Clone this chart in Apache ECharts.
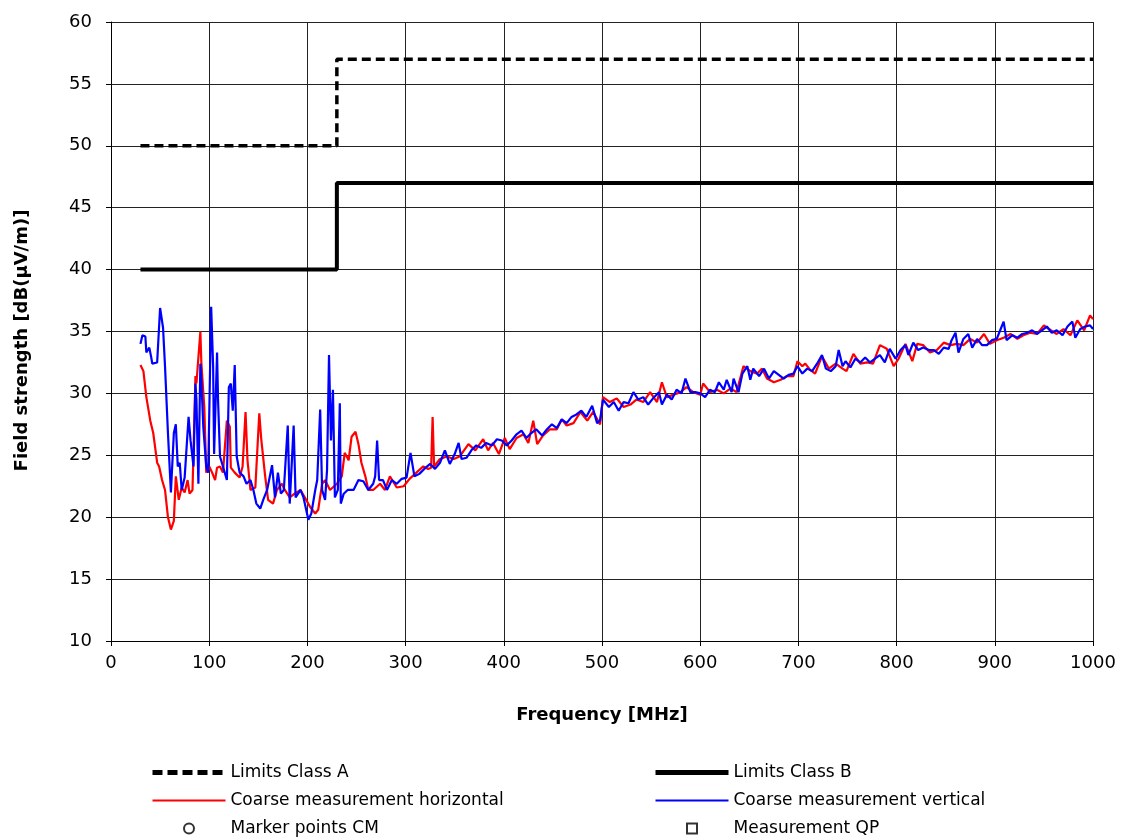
<!DOCTYPE html>
<html>
<head>
<meta charset="utf-8">
<script src="https://cdn.jsdelivr.net/npm/echarts@6/dist/echarts.min.js"></script>
<style>
  html, body { margin: 0; padding: 0; background: #fff; }
  #chart { width: 1126px; height: 837px; }
</style>
</head>
<body>
<div id="chart"></div>
<script>
  // limit lines (step at 230 MHz)
  var limitFreq = [30, 230, 230, 1000]
  var classA = [50, 50, 57, 57]
  var classB = [40, 40, 47, 47]

  var hFreq = [30,33,36,40,43,47,49,52,55,58,61,64,66,69,72,75,78,80,83,86,87,91,92,95,97,100,103,106,108,111,114,118,121,
    122,126,131,134,137,139,142,147,151,153,157,160,165,169,174,177,182,187,193,198,203,208,211,215,218,223,230,235,238,242,
    245,249,252,255,259,262,267,274,279,284,291,298,304,311,318,323,326,327.5,329,335,342,349,355,364,371,379,384,389,395,
    401,406,413,420,425,430,434,440,447,454,459,464,471,478,485,491,498,501,508,515,522,529,535,542,549,556,561,566,573,580,
    586,593,600,603,610,617,624,631,637,644,651,658,663,668,675,682,688,695,699,704,707,712,717,724,731,738,745,749,756,763,
    770,776,783,790,797,802,809,816,821,827,834,841,848,855,861,868,875,882,889,895,902,909,916,923,929,936,943,950,957,963,
    970,977,984,991,997,1000]
  var hLevel = [32.3,31.8,29.7,27.8,26.8,24.4,24.1,23.0,22.2,20.0,19.0,19.7,23.3,21.4,22.4,22.0,23.0,21.9,22.2,31.4,30.8,35.0,32.5,28.9,23.6,24.1,23.6,23.0,24.0,24.1,23.6,27.8,27.3,
    24.0,23.6,23.2,24.1,28.5,24.6,22.2,22.4,28.4,26.3,23.3,21.4,21.1,22.2,22.7,22.2,21.6,21.9,22.2,21.5,20.8,20.3,20.6,22.7,23.0,22.2,22.7,23.3,25.2,24.6,
    26.5,26.9,25.9,24.4,23.3,22.2,22.2,22.7,22.2,23.3,22.4,22.5,23.1,23.6,24.1,23.9,24.0,28.1,24.1,24.7,24.9,24.7,24.9,25.9,25.4,26.3,25.4,26.0,25.1,
    26.4,25.5,26.4,26.7,26.0,27.8,25.9,26.6,27.1,27.1,27.9,27.4,27.6,28.5,27.8,28.5,27.5,29.7,29.3,29.6,28.9,29.1,29.5,29.3,30.1,29.3,30.9,29.7,29.9,30.1,
    30.5,30.1,29.9,30.8,30.1,30.3,30.0,30.4,30.1,32.2,31.8,31.6,32.0,31.2,30.9,31.1,31.4,31.4,32.6,32.2,32.4,31.9,31.6,33.0,32.0,32.4,32.0,31.8,33.2,32.4,
    32.5,32.4,33.9,33.6,32.2,32.8,34.0,32.6,34.0,33.9,33.3,33.5,34.1,33.9,34.0,33.9,34.4,34.1,34.8,34.0,34.3,34.5,34.8,34.4,34.7,34.9,34.8,35.5,35.1,34.8,
    35.2,34.7,35.9,35.1,36.3,36.0]

  // coarse measurement, vertical polarisation
  var vFreq = [30,32,35,36,39,41,42,47,50,53,55,58,61,64,66,68,70,72,75,79,81,84,86,87,89,91,92,94,97,99,102,104,105,108,109,
    111,114,118,120,122,124,126,128,131,135,138,142,145,148,152,155,159,164,167,170,173,176,180,182,186,188,193,196,201,204,
    208,210,213,215,218,220,222,224,226,228,231,233,234,237,241,247,252,257,262,267,269,271,273,277,281,286,291,296,301,305,
    309,314,319,325,330,335,340,345,350,354,357,362,367,372,377,382,388,393,398,403,408,413,418,423,428,433,439,444,449,454,
    459,464,469,474,479,484,490,495,498,501,507,512,517,522,527,532,537,542,547,552,558,561,566,571,576,581,585,590,595,600,
    605,610,615,619,624,627,632,634,639,643,648,651,654,660,665,670,675,680,685,690,695,699,704,709,714,719,724,728,733,738,
    741,745,748,753,758,763,768,773,778,783,788,793,799,804,809,812,817,822,827,833,838,843,848,853,856,860,863,868,873,877,
    882,887,892,897,902,906,909,912,918,923,928,933,938,943,948,953,958,963,969,974,979,982,987,992,997,1000]
  var vLevel = [34.0,34.7,34.6,33.3,33.7,32.9,32.4,32.5,36.9,35.3,32.2,26.8,22.0,26.8,27.5,24.1,24.4,22.2,23.2,28.1,26.2,24.1,30.8,29.5,22.7,32.4,31.1,27.3,24.1,23.6,37.0,32.2,25.1,33.3,29.5,
    24.9,24.1,23.0,30.5,30.8,28.6,32.3,24.9,23.6,23.3,22.7,23.0,22.2,21.1,20.7,21.4,22.2,24.2,21.6,23.6,21.9,22.2,27.4,21.1,27.4,21.6,22.2,21.6,19.8,20.3,
    22.2,23.0,28.7,22.2,21.4,23.8,33.1,26.2,30.3,21.6,22.2,29.2,21.1,21.9,22.2,22.2,23.0,22.9,22.2,22.7,23.3,26.2,23.0,23.0,22.2,23.0,22.7,23.1,23.2,25.2,
    23.3,23.5,23.9,24.3,23.9,24.4,25.4,24.3,25.1,26.0,24.7,24.8,25.4,25.8,25.6,26.0,25.8,26.3,26.2,25.8,26.2,26.7,27.0,26.4,26.8,27.1,26.6,27.1,27.5,27.2,
    27.9,27.6,28.1,28.3,28.6,28.1,29.0,27.6,27.8,29.5,28.9,29.3,28.6,29.3,29.2,30.1,29.5,29.7,29.1,29.6,30.1,29.1,29.9,29.5,30.3,30.0,31.2,30.1,30.1,30.0,
    29.7,30.3,30.1,30.9,30.3,31.1,30.1,31.2,30.1,31.6,32.2,31.1,32.0,31.4,32.0,31.2,31.8,31.5,31.2,31.5,31.6,32.2,31.6,32.0,31.8,32.4,33.1,32.0,31.8,32.2,
    33.5,32.2,32.6,32.1,32.8,32.5,32.9,32.5,32.8,33.1,32.5,33.6,32.8,33.5,33.9,33.1,34.1,33.5,33.7,33.5,33.5,33.2,33.7,33.6,34.3,34.9,33.3,34.4,34.8,33.7,
    34.4,33.9,33.9,34.3,34.4,35.2,35.8,34.3,34.7,34.5,34.8,34.9,35.1,34.8,35.1,35.4,34.9,35.1,34.7,35.4,35.8,34.5,35.2,35.4,35.5,35.2]

  var xTicks = { min: 0, max: 1000, interval: 100 }
  var yTicks = { min: 10, max: 60, interval: 5 }

  function pairs(xs, ys) {
    var out = []
    for (var i = 0; i < xs.length; i++) out.push([xs[i], ys[i]])
    return out
  }

  // the reference text is a bit wide, DejaVu is closer than Arial
  var font = 'DejaVu Sans, Liberation Sans, sans-serif'
  var myChart = echarts.init(document.getElementById('chart'))

  // legend entries for the line series: hide the dot that echarts puts in the middle
  var noDot = { opacity: 0 }
  var squareIcon = 'path://M0,0L10,0L10,10L0,10Z'

  var legendCommon = {
    orient: 'vertical', top: 764, padding: 0,
    itemWidth: 73, itemHeight: 10, itemGap: 11,
    textStyle: { fontSize: 17, lineHeight: 17, color: '#000', fontFamily: font }
  }

  var option = {
    animation: false,
    textStyle: { fontFamily: font, color: '#000' },
    grid: { left: 111, right: 33, top: 22, bottom: 196 },
    xAxis: {
      type: 'value',
      min: xTicks.min, max: xTicks.max, interval: xTicks.interval,
      name: 'Frequency [MHz]',
      nameLocation: 'middle',
      nameGap: 65,
      nameTextStyle: { fontSize: 18, fontWeight: 'bold', color: '#000', fontFamily: font },
      axisLine: { onZero: false, lineStyle: { color: '#000', width: 1 } },
      axisTick: { show: true, length: 5, lineStyle: { color: '#000' } },
      axisLabel: { fontSize: 18, color: '#000', margin: 13, fontFamily: font,
        formatter: function (v) { return String(v) } },
      splitLine: { show: true, lineStyle: { color: '#222', width: 1 } }
    },
    yAxis: {
      type: 'value',
      min: yTicks.min, max: yTicks.max, interval: yTicks.interval,
      name: 'Field strength [dB(µV/m)]',
      nameLocation: 'middle',
      nameGap: 80,
      nameRotate: 90,
      nameTextStyle: { fontSize: 18, fontWeight: 'bold', color: '#000', fontFamily: font,
        padding: [0, 18, 0, 0] },
      axisLine: { show: true, lineStyle: { color: '#000', width: 1 } },
      axisTick: { show: true, length: 5, lineStyle: { color: '#000' } },
      axisLabel: { fontSize: 18, color: '#000', margin: 19, fontFamily: font },
      splitLine: { show: true, lineStyle: { color: '#222', width: 1 } }
    },
    legend: [
      Object.assign({}, legendCommon, {
        left: 150,
        data: [
          { name: 'Limits Class A', itemStyle: noDot, lineStyle: { width: 5, type: [10, 5] } },
          { name: 'Coarse measurement horizontal', itemStyle: noDot },
          { name: 'Marker points CM', icon: 'circle' }
        ]
      }),
      Object.assign({}, legendCommon, {
        left: 653,
        data: [
          { name: 'Limits Class B', itemStyle: noDot, lineStyle: { width: 5 } },
          { name: 'Coarse measurement vertical', itemStyle: noDot },
          { name: 'Measurement QP', icon: squareIcon }
        ]
      })
    ],
    series: [
      {
        name: 'Coarse measurement horizontal',
        type: 'line', symbol: 'none',
        lineStyle: { color: '#ff0000', width: 2.2 },
        itemStyle: { color: '#ff0000' },
        data: pairs(hFreq, hLevel)
      },
      {
        name: 'Coarse measurement vertical',
        type: 'line', symbol: 'none',
        lineStyle: { color: '#0000ff', width: 2.2 },
        itemStyle: { color: '#0000ff' },
        data: pairs(vFreq, vLevel)
      },
      {
        name: 'Limits Class A',
        type: 'line', symbol: 'none',
        lineStyle: { color: '#000', width: 3.5, type: [9, 5] },
        itemStyle: { color: '#000' },
        data: pairs(limitFreq, classA)
      },
      {
        name: 'Limits Class B',
        type: 'line', symbol: 'none',
        lineStyle: { color: '#000', width: 4 },
        itemStyle: { color: '#000' },
        data: pairs(limitFreq, classB)
      },
      {
        name: 'Marker points CM',
        type: 'scatter', symbol: 'circle', symbolSize: 8,
        itemStyle: { color: '#fff', borderColor: '#000', borderWidth: 1 },
        data: []
      },
      {
        name: 'Measurement QP',
        type: 'scatter', symbol: 'rect', symbolSize: 8,
        itemStyle: { color: '#fff', borderColor: '#000', borderWidth: 1 },
        data: []
      }
    ]
  }

  myChart.setOption(option)
</script>
</body>
</html>
